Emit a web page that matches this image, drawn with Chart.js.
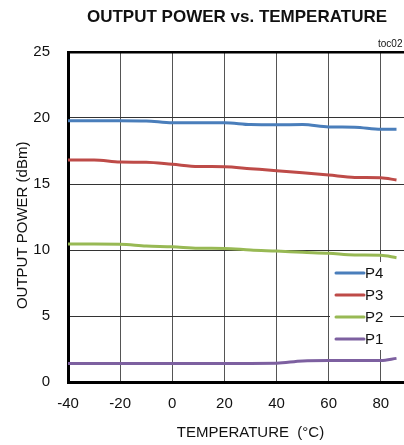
<!DOCTYPE html>
<html><head><meta charset="utf-8">
<script src="https://cdn.jsdelivr.net/npm/chart.js@4.4.0/dist/chart.umd.min.js"></script>
<style>
html,body{margin:0;padding:0;background:#fff;overflow:hidden;width:404px;height:445px;}
#wrap{position:relative;width:446px;height:445px;}
</style></head>
<body><div id="wrap"><canvas id="c" width="446" height="445"></canvas></div>
<script>
const temps = [-40,-30,-20,-10,0,10,20,30,40,50,60,70,80,86];
const p4 = [19.8,19.8,19.8,19.78,19.64,19.64,19.64,19.5,19.48,19.5,19.32,19.3,19.14,19.14];
const p3 = [16.82,16.82,16.66,16.64,16.49,16.33,16.31,16.16,16.01,15.85,15.68,15.5,15.48,15.3];
const p2 = [10.45,10.45,10.44,10.3,10.25,10.13,10.12,10.0,9.92,9.83,9.75,9.62,9.6,9.42];
const p1 = [1.41,1.41,1.41,1.41,1.41,1.41,1.41,1.41,1.42,1.6,1.62,1.62,1.63,1.79];
const seriesNames = ['P4','P3','P2','P1'];
const xTicks = [-40,-20,0,20,40,60,80,100];
const yTicks = [0,5,10,15,20,25];
const colors = ['#4a7ebb','#be4b48','#98b954','#7d60a0'];
const FONT = "'Liberation Sans',Arial,sans-serif";

const toPts = arr => arr.map((v,i)=>({x:temps[i],y:v}));
const datasets = [p4,p3,p2,p1].map((arr,i)=>({
  label: seriesNames[i], data: toPts(arr), borderColor: colors[i], backgroundColor: colors[i],
  borderWidth: 3, pointRadius: 0, tension: 0.4, cubicInterpolationMode:'monotone', fill:false
}));

const extras = {
  id:'extras',
  afterDraw(chart){
    const ctx = chart.ctx;
    ctx.save();
    ctx.fillStyle = '#111';
    ctx.textAlign='center'; ctx.textBaseline='middle';
    ctx.font = "bold 17px " + FONT;
    ctx.fillText('OUTPUT POWER vs. TEMPERATURE', 237, 17);
    ctx.font = "10px " + FONT;
    ctx.textAlign='left';
    ctx.fillText('toc02', 378, 44);
    // legend
    const lx = 330, ly = 262;
    ctx.fillStyle='#fff';
    ctx.fillRect(lx, ly, 60, 88);
    ctx.font = "15px " + FONT;
    seriesNames.forEach((n,i)=>{
      const y = 273 + i*22;
      ctx.strokeStyle = colors[i]; ctx.lineWidth = 3; ctx.lineCap='round';
      ctx.beginPath(); ctx.moveTo(336,y); ctx.lineTo(364,y); ctx.stroke();
      ctx.fillStyle='#111'; ctx.textAlign='left'; ctx.textBaseline='middle';
      ctx.fillText(n, 365, y+1);
    });
    ctx.restore();
  }
};

new Chart(document.getElementById('c'), {
  type:'line',
  data:{datasets},
  options:{
    responsive:false, animation:false, devicePixelRatio:1,
    layout:{padding:{top:52,right:8,left:0,bottom:0}},
    plugins:{legend:{display:false}, title:{display:false}, tooltip:{enabled:false}},
    scales:{
      x:{type:'linear', min:-40, max:100,
        afterBuildTicks: s => { s.ticks = xTicks.map(v=>({value:v})); },
        afterFit: s => { s.height = 63; },
        grid:{color:'#555', lineWidth:1, drawTicks:false},
        border:{color:'#000', width:3},
        ticks:{padding:13, color:'#111', font:{family:FONT, size:15}, callback: v => v===100 ? '' : v},
        title:{display:true, text:'TEMPERATURE  (°C)', color:'#111', font:{family:FONT, size:15}, padding:{top:6,bottom:3}}
      },
      y:{min:0, max:25,
        afterBuildTicks: s => { s.ticks = yTicks.map(v=>({value:v})); },
        afterFit: s => { s.width = 68; },
        grid:{color: c => c.tick && c.tick.value===25 ? '#000' : '#333', lineWidth: c => c.tick && c.tick.value===25 ? 2.5 : 1, drawTicks:false},
        border:{color:'#000', width:3},
        ticks:{padding:18, color:'#111', font:{family:FONT, size:15}},
        title:{display:true, text:'OUTPUT POWER (dBm)    ', color:'#111', font:{family:FONT, size:15}, padding:{top:14,bottom:4}}
      }
    }
  },
  plugins:[extras]
});
</script></body></html>
